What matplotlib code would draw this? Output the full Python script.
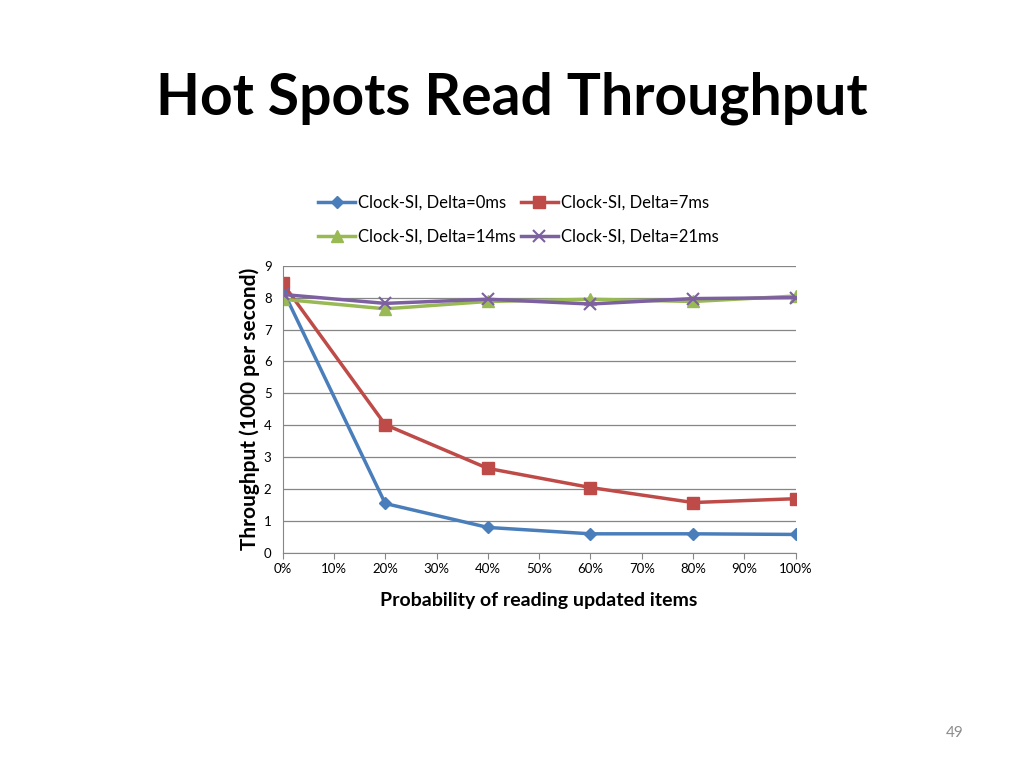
import matplotlib
matplotlib.use("Agg")
import matplotlib.pyplot as plt
from matplotlib.ticker import MultipleLocator, FuncFormatter

# data
prob = [0, 20, 40, 60, 80, 100]
delta_0 = [8.25, 1.55, 0.80, 0.60, 0.60, 0.58]
delta_7 = [8.45, 4.02, 2.65, 2.05, 1.58, 1.70]
delta_14 = [7.95, 7.65, 7.88, 7.95, 7.88, 8.05]
delta_21 = [8.10, 7.82, 7.95, 7.80, 7.97, 8.00]
labels = ["Clock-SI, Delta=0ms", "Clock-SI, Delta=7ms",
          "Clock-SI, Delta=14ms", "Clock-SI, Delta=21ms"]

plt.rcParams['font.family'] = ['Lato', 'DejaVu Sans']

fig = plt.figure(figsize=(10.24, 7.68), dpi=100)
fig.text(0.5, 0.872, "Hot Spots Read Throughput", ha="center", va="center",
         fontsize=41, fontweight="bold")
fig.text(0.932, 0.045, "49", ha="center", va="center", fontsize=11, color="#8c8c8c")

ax = fig.add_axes([0.276, 0.280, 0.501, 0.374])

l0, = ax.plot(prob, delta_0, color="#4a7ebb", lw=2.5, marker="D", ms=6, label=labels[0])
l1, = ax.plot(prob, delta_7, color="#be4b48", lw=2.5, marker="s", ms=8, label=labels[1])
l2, = ax.plot(prob, delta_14, color="#98b954", lw=2.5, marker="^", ms=8, label=labels[2])
l3, = ax.plot(prob, delta_21, color="#7d60a0", lw=2.5, marker="x", ms=8, mew=1.5, label=labels[3])

ax.set_xlim(0, 100)
ax.set_ylim(0, 9)
ax.xaxis.set_major_locator(MultipleLocator(10))
ax.yaxis.set_major_locator(MultipleLocator(1))
ax.xaxis.set_major_formatter(FuncFormatter(lambda v, p: f"{int(v)}%"))
ax.tick_params(labelsize=9.5, length=4, color="#868686")
ax.tick_params(axis="y", length=0, pad=8)
ax.grid(axis="y", color="#868686", lw=0.9)
ax.set_axisbelow(True)
for s in ["top", "right"]:
    ax.spines[s].set_visible(False)
for s in ["left", "bottom"]:
    ax.spines[s].set_color("#868686")

ax.set_xlabel("Probability of reading updated items", fontsize=14, fontweight="bold", labelpad=12)
ax.set_ylabel("Throughput (1000 per second)", fontsize=15, fontweight="bold", labelpad=3)

# row-major order like the original legend
ax.legend([l0, l2, l1, l3], [labels[0], labels[2], labels[1], labels[3]],
          loc="lower center", bbox_to_anchor=(0.46, 1.02), ncol=2, frameon=False,
          fontsize=12, handlelength=2.2, columnspacing=0.3, handletextpad=0.2,
          labelspacing=1.1)

fig.savefig("out.png", dpi=100)
